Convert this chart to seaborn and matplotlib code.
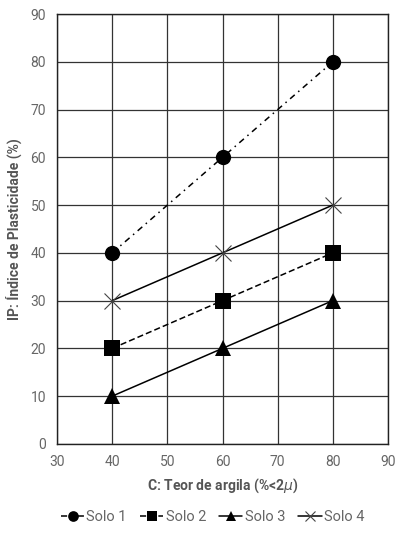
import matplotlib
matplotlib.use("Agg")
import matplotlib.pyplot as plt
import seaborn as sns
import pandas as pd

# data
argila = [40, 60, 80]
solo1 = [40, 60, 80]
solo2 = [20, 30, 40]
solo3 = [10, 20, 30]
solo4 = [30, 40, 50]
nomes = ["Solo 1", "Solo 2", "Solo 3", "Solo 4"]

df = pd.DataFrame({
    "C": argila * 4,
    "IP": solo1 + solo2 + solo3 + solo4,
    "solo": [n for n in nomes for _ in argila],
})

sns.set_style("white")
plt.rcParams["font.family"] = ["Roboto", "DejaVu Sans"]

fig = plt.figure(figsize=(4.05, 5.4), dpi=100)
ax = fig.add_axes([0.141, 0.178, 0.817, 0.796])

estilos = {
    "Solo 1": dict(ls=(0, (4, 3, 1, 3)), marker="o", ms=11),
    "Solo 2": dict(ls=(0, (4, 2)), marker="s", ms=11),
    "Solo 3": dict(ls="-", marker="^", ms=11),
    "Solo 4": dict(ls="-", marker="x", ms=11),
}
for nome in nomes:
    sub = df[df["solo"] == nome]
    st = estilos[nome]
    sns.lineplot(data=sub, x="C", y="IP", ax=ax, color="black", lw=1.1,
                 linestyle=st["ls"], marker=st["marker"], markersize=st["ms"],
                 markeredgewidth=0.8 if nome == "Solo 4" else 0,
                 markeredgecolor="#444444", label=nome)

ax.set_xlim(30, 90)
ax.set_ylim(0, 90)
ax.set_xticks(range(30, 91, 10))
ax.set_yticks(range(0, 91, 10))
ax.grid(True, color="#333333", lw=0.9)
for s in ax.spines.values():
    s.set_color("#222222")
    s.set_linewidth(1.0)
ax.tick_params(axis="both", colors="#666666", labelsize=10, length=0, pad=8)
ax.set_xlabel("C: Teor de argila (%<2$\\mu$)", fontsize=10, color="#555555",
              fontweight="bold", labelpad=5)
ax.set_ylabel("IP: Índice de Plasticidade (%)", fontsize=10, color="#555555",
              fontweight="bold", labelpad=6)

ax.legend(loc="center", bbox_to_anchor=(0.47, -0.17), ncol=4, frameon=False,
          fontsize=10.5, handlelength=1.6, handletextpad=0.15, columnspacing=0.9,
          labelcolor="#666666", markerscale=0.7)

fig.savefig("out.png", dpi=100)
